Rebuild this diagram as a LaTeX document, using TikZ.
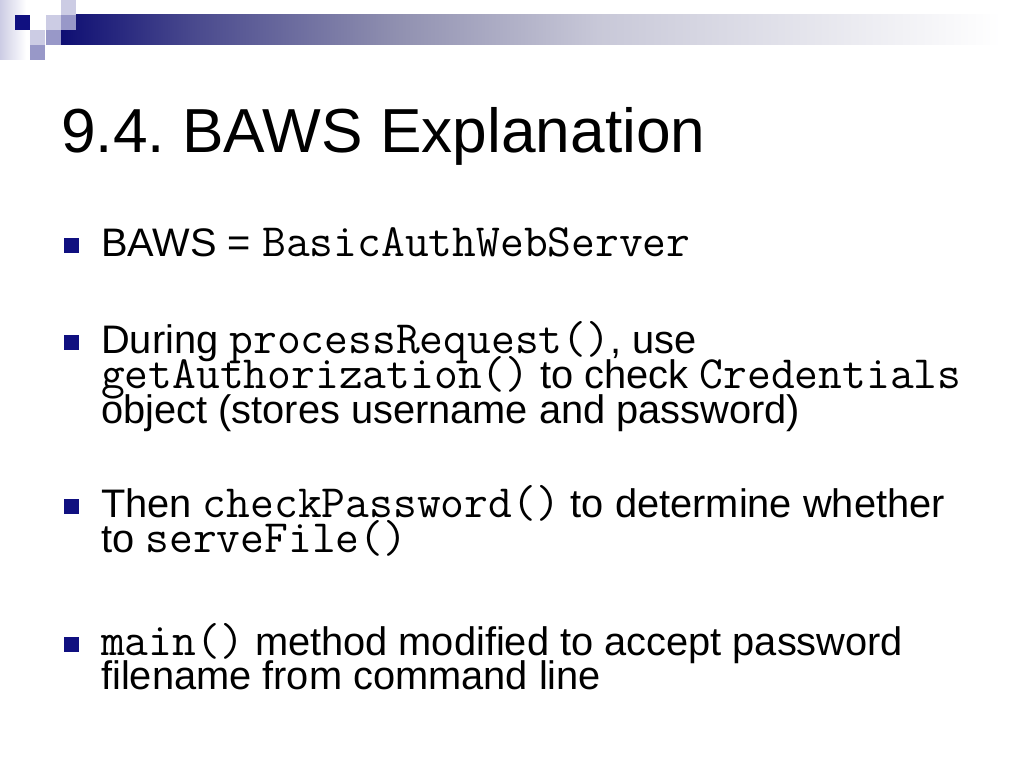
\documentclass[tikz,border=0pt]{standalone}
\usepackage{fontspec}
\setmainfont{Liberation Sans}
\frenchspacing
\definecolor{navy}{RGB}{16,16,128}
\definecolor{lav}{RGB}{204,204,228}
\definecolor{midlav}{RGB}{152,152,200}
\pgfdeclarehorizontalshading{barshade}{100bp}{color(0bp)=(navy!90!black);
  color(25bp)=(navy!90!black); color(32bp)=(rgb,255:red,74;green,74;blue,142);
  color(42.5bp)=(rgb,255:red,144;green,144;blue,176);
  color(53bp)=(rgb,255:red,200;green,200;blue,216);
  color(74bp)=(white); color(100bp)=(white)}
\newcommand\cd[1]{{\ttfamily\fontsize{46.2bp}{35bp}\selectfont #1}}
\tikzset{
  bodytext/.style={anchor=base west,inner sep=0pt,text height=27bp,text depth=7bp,
    font=\fontsize{39.8bp}{35bp}\selectfont},
  titletext/.style={anchor=base west,inner sep=0pt,font=\fontsize{62.2bp}{70bp}\selectfont},
  bulletbox/.style={fill=navy,inner sep=0pt,minimum size=15bp},
  sq/.style={inner sep=0pt,minimum size=15bp,anchor=north west}
}
\begin{document}
\begin{tikzpicture}[x=1bp,y=-1bp]
		\useasboundingbox[fill=white] (0,0) rectangle (1024,768);
		
		\shade[left color=lav,right color=white] (0,0) rectangle (26,60);
		\shade[shading=barshade] (61,15) rectangle (1020,45);
		
		\node[sq,fill=navy] (s1) at (15,15) {};
		\node[sq,fill=lav] (s2) at (46,15) {};
		\node[sq,fill=midlav] (s3) at (61,15) {};
		\node[sq,fill=lav] (s4) at (61,0) {};
		\node[sq,fill=lav] (s5) at (30,30) {};
		\node[sq,fill=midlav] (s6) at (46,30) {};
		\node[sq,fill=midlav] (s7) at (30,45) {};
		
		\node[titletext] (title) at (61,152) {9.4. BAWS Explanation};
		
		\foreach \y[count=\i] in {256,353,517,655}{
			\node[bulletbox] (b\i) at (71.5,\y-10.5) {};
		}
		
		\node[bodytext] (l1) at (101,256) {BAWS = \cd{BasicAuthWebServer}};
		
		\node[bodytext] (l2) at (101,353) {During \cd{processRequest()}, use};
		\node[bodytext] (l3) at (101,388) {\cd{getAuthorization()} to check \cd{Credentials}};
		\node[bodytext] (l4) at (101,423) {object (stores username and password)};
		
		\node[bodytext] (l5) at (101,517) {Then \cd{checkPassword()} to determine whether};
		\node[bodytext] (l6) at (101,552) {to \cd{serveFile()}};
		
		\node[bodytext] (l7) at (101,655) {\cd{main()} method modified to accept password};
		\node[bodytext] (l8) at (101,689) {filename from command line};
		\end{tikzpicture}
\end{document}
